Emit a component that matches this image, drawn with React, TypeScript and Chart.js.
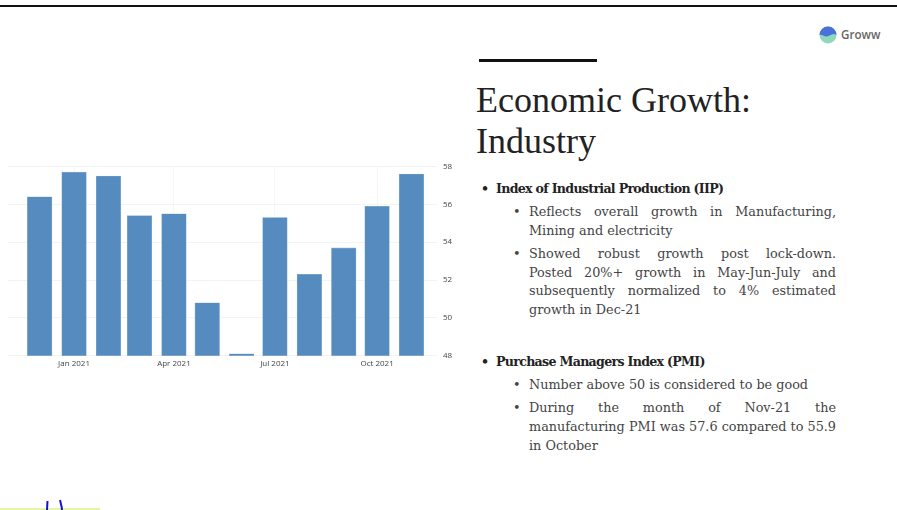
import { useEffect, useRef } from "react";
import { Chart, registerables } from "chart.js";

Chart.register(...registerables);

// Manufacturing PMI by month, placed on a day axis counted from 1 Jan 2021.
const monthDays = [-31, 0, 31, 59, 90, 120, 151, 181, 212, 243, 273, 304];
const pmiValues = [56.4, 57.7, 57.5, 55.4, 55.5, 50.8, 48.1, 55.3, 52.3, 53.7, 55.9, 57.6];
const tickDays = [0, 90, 181, 273];
const tickLabels = ["Jan 2021", "Apr 2021", "Jul 2021", "Oct 2021"];

const titleLines = ["Economic Growth:", "Industry"];
const iipHeading = "Index of Industrial Production (IIP)";
const iipPoints = [
  ["Reflects overall growth in Manufacturing,", "Mining and electricity"],
  [
    "Showed robust growth post lock-down.",
    "Posted 20%+ growth in May-Jun-July and",
    "subsequently normalized to 4% estimated",
    "growth in Dec-21",
  ],
];
const pmiHeading = "Purchase Managers Index (PMI)";
const pmiPoints = [
  ["Number above 50 is considered to be good"],
  [
    "During the month of Nov-21 the",
    "manufacturing PMI was 57.6 compared to 55.9",
    "in October",
  ],
];

const bodyFont = '"DejaVu Serif", serif';

function Bullets({ points }: { points: string[][] }) {
  return (
    <>
      {points.map((lines, i) => (
        <div key={i} style={{ position: "relative", paddingLeft: 50, marginTop: 4.5 }}>
          <span style={{ position: "absolute", left: 34, top: 0 }}>•</span>
          {lines.map((line, j) => (
            <div
              key={j}
              style={{
                height: 18.7,
                // every wrapped line runs to the right edge except a paragraph's last one
                textAlignLast: j < lines.length - 1 ? "justify" : "left",
              }}
            >
              {line}
            </div>
          ))}
        </div>
      ))}
    </>
  );
}

function Heading({ text }: { text: string }) {
  return (
    <div
      style={{
        position: "relative",
        paddingLeft: 17,
        fontWeight: 600,
        color: "#222",
        fontSize: 12.6,
        letterSpacing: -0.7,
        height: 18.7,
      }}
    >
      <span style={{ position: "absolute", left: 2, top: 0 }}>•</span>
      {text}
    </div>
  );
}

export default function App() {
  const canvasRef = useRef<HTMLCanvasElement>(null);

  useEffect(() => {
    document.body.style.margin = "0";
    document.body.style.background = "#fff";
    const chart = new Chart(canvasRef.current!, {
      type: "bar",
      data: {
        datasets: [
          {
            data: monthDays.map((d, i) => ({ x: d, y: pmiValues[i] })),
            backgroundColor: "#558bbe",
            borderColor: "#8fb4d8",
            borderWidth: 0.6,
            barThickness: 24.6,
          },
        ],
      },
      options: {
        responsive: false,
        animation: false,
        layout: { padding: { left: 8, top: 16.5, right: 0, bottom: 0 } },
        plugins: { legend: { display: false }, tooltip: { enabled: false } },
        scales: {
          x: {
            type: "linear",
            offset: false,
            min: -59.5,
            max: 327,
            afterBuildTicks: (axis) => {
              axis.ticks = tickDays.map((value) => ({ value }));
            },
            afterFit: (axis) => {
              axis.height = 24.3;
            },
            ticks: {
              autoSkip: false,
              maxRotation: 0,
              padding: 3,
              color: "#444",
              font: { family: '"Open Sans", sans-serif', size: 8 },
              callback: (value) => tickLabels[tickDays.indexOf(Number(value))] ?? "",
            },
            grid: { color: "#f6f6f6", drawTicks: false, offset: false },
            border: { display: false },
          },
          y: {
            position: "right",
            min: 48,
            max: 58,
            afterFit: (axis) => {
              axis.width = 23;
            },
            ticks: {
              stepSize: 2,
              padding: 6,
              color: "#444",
              font: { family: '"Open Sans", sans-serif', size: 8 },
            },
            grid: { color: "#f3f3f3", drawTicks: false },
            border: { display: false },
          },
        },
      },
    });
    return () => chart.destroy();
  }, []);

  const textBlock = {
    position: "absolute",
    left: 479,
    width: 357,
    fontFamily: bodyFont,
    fontSize: 12.8,
    lineHeight: "18.7px",
    color: "#444",
    whiteSpace: "nowrap",
  } as const;

  return (
    <div style={{ position: "relative", width: 897, height: 510, background: "#fff", overflow: "hidden" }}>
      <div style={{ position: "absolute", left: 0, top: 4.5, width: 897, height: 2, background: "#111" }} />

      <canvas ref={canvasRef} width={460} height={230} style={{ position: "absolute", left: 0, top: 150 }} />

      <div style={{ position: "absolute", left: 479, top: 58.5, width: 118, height: 3.5, background: "#111" }} />
      <div
        style={{
          position: "absolute",
          left: 476,
          top: 79.5,
          fontFamily: '"Liberation Serif", serif',
          fontSize: 36,
          lineHeight: "41px",
          color: "#222",
          whiteSpace: "nowrap",
        }}
      >
        {titleLines.map((t) => (
          <div key={t}>{t}</div>
        ))}
      </div>

      <svg width={20} height={20} style={{ position: "absolute", left: 818, top: 25 }}>
        <circle cx={10} cy={10} r={8.5} fill="#8fd8bb" />
        <path d="M1.5 10 A8.5 8.5 0 0 1 18.5 10 C14 7 12 12 8 11.5 C5 11 4 9 1.5 10 Z" fill="#4a70dc" />
      </svg>
      <div
        style={{
          position: "absolute",
          left: 841,
          top: 27,
          fontFamily: '"Open Sans", sans-serif',
          fontSize: 11.6,
          fontWeight: 600,
          color: "#666",
          lineHeight: "16px",
        }}
      >
        Groww
      </div>

      <div style={{ ...textBlock, top: 180 }}>
        <Heading text={iipHeading} />
        <Bullets points={iipPoints} />
      </div>
      <div style={{ ...textBlock, top: 353 }}>
        <Heading text={pmiHeading} />
        <Bullets points={pmiPoints} />
      </div>

      <div style={{ position: "absolute", left: 0, top: 508, width: 100, height: 2, background: "#e2f6a6" }} />
      <svg width={30} height={14} style={{ position: "absolute", left: 40, top: 496 }}>
        <path d="M7.5 5 L7 14 M20 4 C21 8 22 11 22 14" stroke="#1414c8" strokeWidth={2} fill="none" />
      </svg>
    </div>
  );
}
